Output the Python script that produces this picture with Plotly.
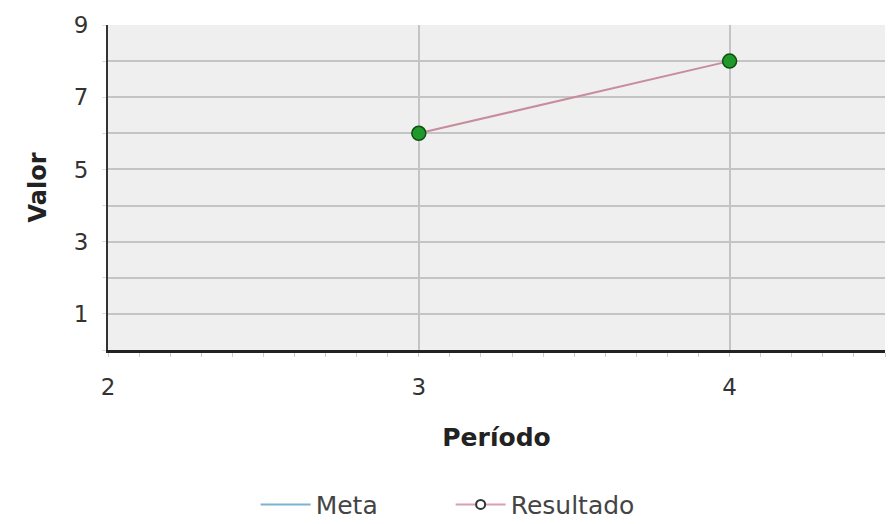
import plotly.graph_objects as go

periodo = [3, 4]
resultado = [6, 8]
meta_periodo = [None]
meta_valor = [None]
y_tick_vals = [1, 3, 5, 7, 9]

font_family = "DejaVu Sans"

fig = go.Figure()

fig.add_trace(go.Scatter(
    x=meta_periodo, y=meta_valor, name="Meta", mode="lines",
    line=dict(color="#7db3cf", width=2), showlegend=True,
))
fig.add_trace(go.Scatter(
    x=periodo, y=resultado, name="Resultado", mode="lines+markers",
    line=dict(color="#c78d9c", width=2),
    marker=dict(size=14, color="#1f9a2a", line=dict(color="#0c4f12", width=1.5)),
    showlegend=False,
))
# legend entry for Resultado: hollow circle on pink line
fig.add_trace(go.Scatter(
    x=[None], y=[None], name="Resultado", mode="lines+markers",
    line=dict(color="#d9a0ae", width=2),
    marker=dict(size=9, color="white", line=dict(color="#333333", width=2)),
))

fig.update_layout(
    width=888, height=517,
    margin=dict(l=100, r=11, t=17, b=175, autoexpand=False),
    paper_bgcolor="white",
    plot_bgcolor="#efefef",
    font=dict(family=font_family, size=16, color="#333333"),
    legend=dict(orientation="h", x=0.19, xanchor="left", y=-0.405, yanchor="top",
                font=dict(size=25, color="#444444"), itemwidth=50, entrywidth=130,
                traceorder="normal"),
    xaxis=dict(
        range=[2, 4.5], tickvals=[2, 3, 4], ticks="", showgrid=True,
        gridcolor="#c4c4c4", gridwidth=1.5, zeroline=False, automargin=False,
        showline=True, linecolor="#222222", linewidth=3,
        minor=dict(dtick=0.1, ticks="outside", ticklen=4, tickcolor="#cccccc", showgrid=False),
        tickfont=dict(size=23, color="#333333"), ticklabelstandoff=14,
        title=dict(text="<b>Período</b>", font=dict(size=25, color="#222222"), standoff=30),
    ),
    yaxis=dict(
        range=[0, 9], tickvals=y_tick_vals, dtick=1,
        showgrid=False, zeroline=False, automargin=False,
        showline=True, linecolor="#333333", linewidth=2,
        ticks="", tickfont=dict(size=23, color="#333333"), ticklabelstandoff=13,
        minor=dict(dtick=1, showgrid=True, gridcolor="#c4c4c4", gridwidth=1.5, ticks="outside", ticklen=4, tickcolor="#dddddd"),
        title=dict(text="<b>Valor</b>", font=dict(size=24, color="#222222"), standoff=20),
    ),
)

fig.write_html("out.html")
